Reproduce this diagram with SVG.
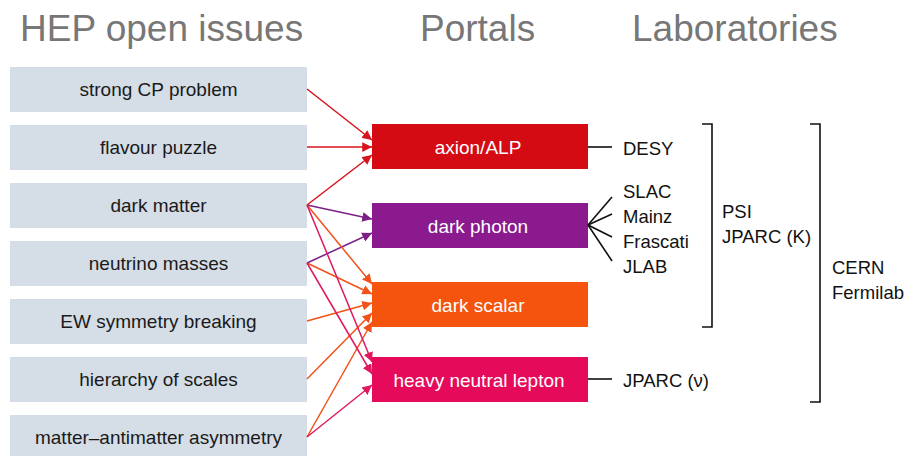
<svg xmlns="http://www.w3.org/2000/svg" width="908" height="456" viewBox="0 0 908 456">
<style>
.hdr{font-family:"Liberation Sans",Arial,sans-serif;font-size:37px;fill:#777}
.issue rect{fill:#d5dde7}
.issue text{font-family:"Liberation Sans",Arial,sans-serif;font-size:19px;fill:#1a1a1a;text-anchor:middle}
.portal text{font-family:"Liberation Sans",Arial,sans-serif;font-size:19px;fill:#fff;text-anchor:middle}
.lab{font-family:"Liberation Sans",Arial,sans-serif;font-size:18.5px;fill:#111}
.k{stroke:#111;stroke-width:1.6;fill:none}
.a{fill:none;stroke-width:1.5}
.r{stroke:#d7141b}.p{stroke:#7d1f88}.o{stroke:#f2521a}.m{stroke:#e0185f}
</style>
<defs>
<marker id="hr" viewBox="0 0 10 10" refX="10" refY="5" markerWidth="6.5" markerHeight="6.5" markerUnits="strokeWidth" orient="auto"><path d="M0,0L10,5L0,10z" fill="#d7141b"/></marker>
<marker id="hp" viewBox="0 0 10 10" refX="10" refY="5" markerWidth="6.5" markerHeight="6.5" markerUnits="strokeWidth" orient="auto"><path d="M0,0L10,5L0,10z" fill="#7d1f88"/></marker>
<marker id="ho" viewBox="0 0 10 10" refX="10" refY="5" markerWidth="6.5" markerHeight="6.5" markerUnits="strokeWidth" orient="auto"><path d="M0,0L10,5L0,10z" fill="#f2521a"/></marker>
<marker id="hm" viewBox="0 0 10 10" refX="10" refY="5" markerWidth="6.5" markerHeight="6.5" markerUnits="strokeWidth" orient="auto"><path d="M0,0L10,5L0,10z" fill="#e0185f"/></marker>
</defs>
<rect width="908" height="456" fill="#fff"/>
<text class="hdr" x="20" y="41">HEP open issues</text>
<text class="hdr" x="420" y="41">Portals</text>
<text class="hdr" x="632" y="41">Laboratories</text>

<g id="issue-strongcp" class="issue"><rect x="10" y="67" width="297" height="45"/><text x="158.5" y="96">strong CP problem</text></g>
<g id="issue-flavour" class="issue"><rect x="10" y="125" width="297" height="45"/><text x="158.5" y="154">flavour puzzle</text></g>
<g id="issue-darkmatter" class="issue"><rect x="10" y="183" width="297" height="45"/><text x="158.5" y="212">dark matter</text></g>
<g id="issue-neutrino" class="issue"><rect x="10" y="241" width="297" height="45"/><text x="158.5" y="270">neutrino masses</text></g>
<g id="issue-ew" class="issue"><rect x="10" y="299" width="297" height="45"/><text x="158.5" y="328">EW symmetry breaking</text></g>
<g id="issue-hierarchy" class="issue"><rect x="10" y="357" width="297" height="45"/><text x="158.5" y="386">hierarchy of scales</text></g>
<g id="issue-matter" class="issue"><rect x="10" y="415" width="297" height="45"/><text x="158.5" y="444">matter–antimatter asymmetry</text></g>

<g id="portal-axion" class="portal"><rect x="372" y="124" width="216" height="45" fill="#d50b13"/><text x="478" y="154">axion/ALP</text></g>
<g id="portal-darkphoton" class="portal"><rect x="372" y="203" width="216" height="45" fill="#8a1a8e"/><text x="478" y="233">dark photon</text></g>
<g id="portal-darkscalar" class="portal"><rect x="372" y="282" width="216" height="45" fill="#f4540e"/><text x="478" y="312">dark scalar</text></g>
<g id="portal-hnl" class="portal"><rect x="372" y="357" width="216" height="45" fill="#e50a5a"/><text x="479" y="387">heavy neutral lepton</text></g>

<g id="connectors">
<line class="a r" x1="307" y1="89" x2="372" y2="140" marker-end="url(#hr)"/>
<line class="a r" x1="307" y1="147" x2="372" y2="147" marker-end="url(#hr)"/>
<line class="a r" x1="307" y1="205" x2="372" y2="155" marker-end="url(#hr)"/>
<line class="a p" x1="307" y1="205" x2="372" y2="219" marker-end="url(#hp)"/>
<line class="a p" x1="307" y1="263" x2="372" y2="233" marker-end="url(#hp)"/>
<line class="a o" x1="307" y1="205" x2="372" y2="284" marker-end="url(#ho)"/>
<line class="a o" x1="307" y1="263" x2="372" y2="294" marker-end="url(#ho)"/>
<line class="a o" x1="307" y1="321" x2="372" y2="303" marker-end="url(#ho)"/>
<line class="a o" x1="307" y1="379" x2="372" y2="313" marker-end="url(#ho)"/>
<line class="a o" x1="307" y1="437" x2="372" y2="322" marker-end="url(#ho)"/>
<line class="a m" x1="307" y1="205" x2="372" y2="362" marker-end="url(#hm)"/>
<line class="a m" x1="307" y1="263" x2="372" y2="374" marker-end="url(#hm)"/>
<line class="a m" x1="307" y1="437" x2="372" y2="385" marker-end="url(#hm)"/>
<line class="k" x1="588" y1="147" x2="612" y2="147"/>
<line class="k" x1="588" y1="225" x2="612" y2="197"/>
<line class="k" x1="588" y1="225" x2="612" y2="214"/>
<line class="k" x1="588" y1="225" x2="612" y2="237"/>
<line class="k" x1="588" y1="225" x2="612" y2="261"/>
<line class="k" x1="588" y1="379" x2="612" y2="379"/>
<path class="k" d="M702,124H712V327H702"/>
<path class="k" d="M810,124H820V402H810"/>
</g>

<g id="labs">
<text class="lab" x="623" y="155">DESY</text>
<text class="lab" x="623" y="198">SLAC</text>
<text class="lab" x="623" y="223">Mainz</text>
<text class="lab" x="623" y="248">Frascati</text>
<text class="lab" x="623" y="273">JLAB</text>
<text class="lab" x="722" y="218">PSI</text>
<text class="lab" x="722" y="243">JPARC (K)</text>
<text class="lab" x="832" y="274">CERN</text>
<text class="lab" x="832" y="299">Fermilab</text>
<text class="lab" x="623" y="387">JPARC (ν)</text>
</g>
</svg>
